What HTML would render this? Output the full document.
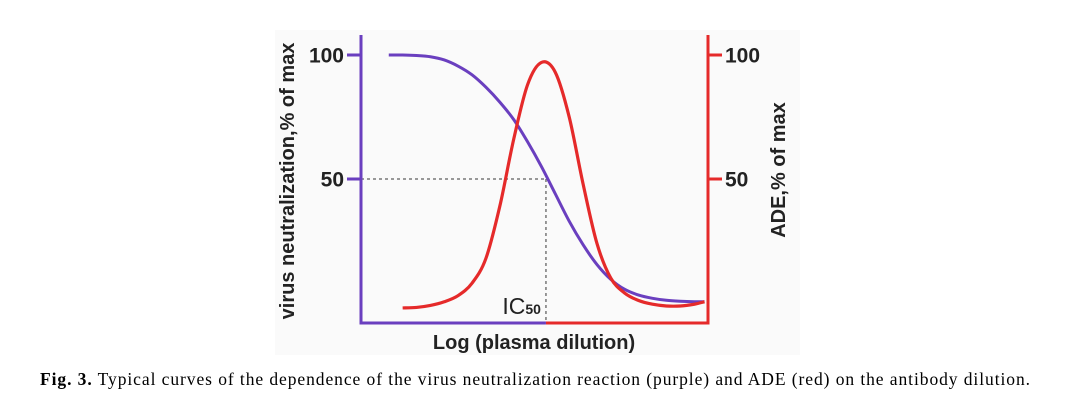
<!DOCTYPE html>
<html><head><meta charset="utf-8"><style>
body{margin:0;background:#fff;width:1080px;height:403px;overflow:hidden}
svg text{font-family:"Liberation Sans",Arial,sans-serif}
</style></head><body>
<svg width="1080" height="403" viewBox="0 0 1080 403">
<rect x="275" y="30" width="525" height="325" fill="#fafafa"/>
<g id="marks"></g>
<text x="40" y="385" textLength="990" lengthAdjust="spacing" style="font-family:'Liberation Serif',serif;font-size:17.5px"><tspan font-weight="bold">Fig. 3.</tspan> Typical curves of the dependence of the virus neutralization reaction (purple) and ADE (red) on the antibody dilution.</text>
</svg>
<script>
const NS='http://www.w3.org/2000/svg';
const purpleX=[8,12,16,20,24,28,32,36,40,44,48,52,56,60,64,68,72,76,80,84,88,92,96,99];
const purpleY=[100,100,99.8,99.3,98,95.5,92,87,81,74,65,55,44,33,23.5,15.5,9.5,5.5,3.2,1.9,1.1,0.7,0.5,0.5];
const redX=[12,16,20,24,28,32,36,40,44,48,52,56,60,64,68,72,76,80,84,88,92,96,99];
const redY=[-2,-1.8,-1,0.5,3,8,18,39,66,88,97,93,75,48,24,10,4,1,-0.5,-1.2,-1.2,-0.5,0.5];
const yTicks=[50,100];
const ic50=53.3;
const X0=361,X1=708,Y0=303,PX=2.48;
const xs=v=>X0+(X1-X0)*v/100, ys=v=>Y0-PX*v;
const g=document.getElementById('marks');
function add(tag,attrs,name,text){const e=document.createElementNS(NS,tag);for(const k in attrs)e.setAttribute(k,attrs[k]);


if(text!==undefined)e.textContent=text;g.appendChild(e);return e;}
function smooth(X,Y){const p=X.map((x,i)=>[xs(x),ys(Y[i])]);let d='M'+p[0][0]+','+p[0][1];
for(let i=0;i<p.length-1;i++){const a=p[i-1]||p[i],b=p[i],c=p[i+1],e=p[i+2]||c;
d+=' C'+(b[0]+(c[0]-a[0])/6)+','+(b[1]+(c[1]-a[1])/6)+' '+(c[0]-(e[0]-b[0])/6)+','+(c[1]-(e[1]-b[1])/6)+' '+c[0]+','+c[1];}return d;}
const yb=323;
add('line',{x1:X0,y1:ys(50),x2:xs(ic50),y2:ys(50),stroke:'#777','stroke-width':1.5,'stroke-dasharray':'3,3'},'ic50-horizontal-guide');
add('line',{x1:xs(ic50),y1:ys(50),x2:xs(ic50),y2:yb,stroke:'#777','stroke-width':1.5,'stroke-dasharray':'3,3'},'ic50-vertical-guide');
add('line',{x1:X0,y1:35,x2:X0,y2:yb+1.5,stroke:'#6a3fbf','stroke-width':3},'left-y-axis');
add('line',{x1:X1,y1:35,x2:X1,y2:yb+1.5,stroke:'#e52a2a','stroke-width':3},'right-y-axis');
add('line',{x1:X0,y1:yb,x2:xs(ic50),y2:yb,stroke:'#6a3fbf','stroke-width':3},'x-axis-left');
add('line',{x1:xs(ic50),y1:yb,x2:X1,y2:yb,stroke:'#e52a2a','stroke-width':3},'x-axis-right');
yTicks.forEach(t=>{
add('line',{x1:X0-14,y1:ys(t),x2:X0,y2:ys(t),stroke:'#6a3fbf','stroke-width':3},'left-tick-'+t);
add('text',{x:X0-17,y:ys(t)+7.5,'text-anchor':'end','font-size':21,'font-weight':'bold',fill:'#222'},'left-tick-label-'+t,String(t));
add('line',{x1:X1,y1:ys(t),x2:X1+14,y2:ys(t),stroke:'#e52a2a','stroke-width':3},'right-tick-'+t);
add('text',{x:X1+17,y:ys(t)+7.5,'text-anchor':'start','font-size':21,'font-weight':'bold',fill:'#222'},'right-tick-label-'+t,String(t));
});
add('path',{d:smooth(purpleX,purpleY),fill:'none',stroke:'#6a3fbf','stroke-width':3},'neutralization-curve');
add('path',{d:smooth(redX,redY),fill:'none',stroke:'#e52a2a','stroke-width':3.2},'ade-curve');
const ic=add('text',{x:xs(ic50)-5,y:314,'text-anchor':'end','font-size':23,fill:'#222'},'ic50-label','IC');
const sub=document.createElementNS(NS,'tspan');sub.setAttribute('font-size',14);sub.setAttribute('font-weight','bold');sub.textContent='50';


ic.appendChild(sub);
add('text',{x:534,y:349,'text-anchor':'middle','font-size':20,'font-weight':'bold',fill:'#222'},'x-axis-title','Log (plasma dilution)');
add('text',{x:0,y:0,transform:'translate(294,181) rotate(-90)','text-anchor':'middle','font-size':20,'font-weight':'bold',fill:'#222'},'left-y-axis-title','virus neutralization,% of max');
add('text',{x:0,y:0,transform:'translate(785,170) rotate(-90)','text-anchor':'middle','font-size':20,'font-weight':'bold',fill:'#222'},'right-y-axis-title','ADE,% of max');
</script>
</body></html>
